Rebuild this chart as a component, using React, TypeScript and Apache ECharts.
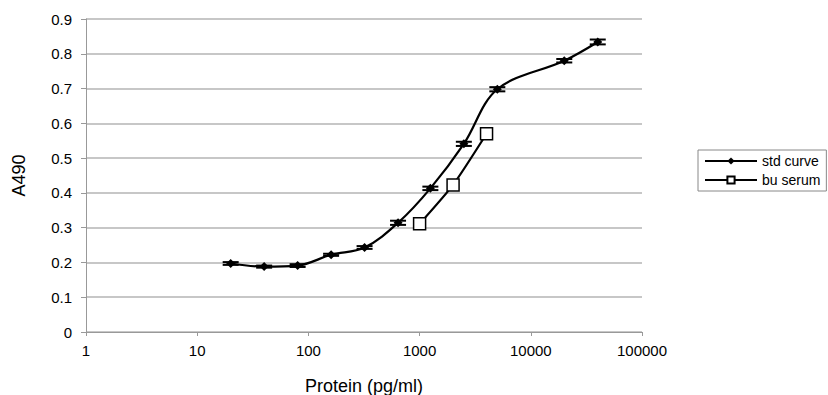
import React, { useEffect, useRef } from "react";
import * as echarts from "echarts";

const stdX = [20, 40, 80, 160, 320, 640, 1250, 2500, 5000, 20000, 40000];
const stdY = [0.197, 0.188, 0.191, 0.222, 0.243, 0.314, 0.413, 0.541, 0.698, 0.780, 0.834];
const stdErr = [0.004, 0.003, 0.004, 0.003, 0.004, 0.006, 0.005, 0.006, 0.006, 0.005, 0.007];
const buX = [1000, 2000, 4000];
const buY = [0.311, 0.423, 0.570];
const yTicks = [0, 0.1, 0.2, 0.3, 0.4, 0.5, 0.6, 0.7, 0.8, 0.9];

export default function App() {
  const ref = useRef<HTMLDivElement>(null);
  useEffect(() => {
    const chart = echarts.init(ref.current!, null, { renderer: "svg" });
    const font = "'Liberation Sans', Arial, sans-serif";
    chart.setOption({
      animation: false,
      backgroundColor: "#ffffff",
      textStyle: { fontFamily: font },
      grid: { left: 86, right: 186, top: 19, bottom: 63, containLabel: false, outerBoundsMode: "none" },
      legend: {
        left: 698,
        top: 150,
        orient: "vertical",
        borderColor: "#888",
        borderWidth: 1,
        padding: [4, 6, 4, 6],
        itemGap: 5,
        itemWidth: 52,
        itemHeight: 9,
        textStyle: { fontSize: 14, color: "#000", fontFamily: font },
        data: ["std curve", "bu serum"],
      },
      xAxis: {
        type: "log",
        logBase: 10,
        min: 1,
        max: 100000,
        name: "Protein (pg/ml)",
        nameLocation: "middle",
        nameGap: 45,
        nameTextStyle: { fontSize: 18, color: "#000", fontFamily: font },
        axisLine: { lineStyle: { color: "#999", width: 1 } },
        axisTick: { show: true, length: 4, lineStyle: { color: "#999" } },
        axisLabel: { color: "#000", fontSize: 15, margin: 11, formatter: (v: number) => String(Math.round(v)) },
        splitLine: { show: false },
        minorTick: { show: false },
      },
      yAxis: {
        type: "value",
        min: 0,
        max: 0.9,
        interval: 0.1,
        name: "A490",
        nameLocation: "middle",
        nameGap: 58,
        nameRotate: 90,
        nameTextStyle: { fontSize: 18, color: "#000", fontFamily: font },
        axisLine: { show: true, lineStyle: { color: "#999", width: 1 } },
        axisTick: { show: true, length: 5, lineStyle: { color: "#999" } },
        axisLabel: {
          color: "#000",
          fontSize: 15,
          margin: 14,
          formatter: (v: number) => {
            const t = yTicks.find((k) => Math.abs(k - v) < 1e-6);
            return t === 0 ? "0" : (t ?? v).toFixed(1);
          },
        },
        splitLine: { show: true, lineStyle: { color: "#b4b4b4", width: 1.5 } },
      },
      series: [
        {
          name: "std curve",
          type: "line",
          smooth: 0.35,
          data: stdX.map((x, i) => [x, stdY[i]]),
          symbol: "diamond",
          symbolSize: 9,
          itemStyle: { color: "#000" },
          lineStyle: { color: "#000", width: 2.2 },
          z: 3,
        },
        {
          name: "bu serum",
          type: "line",
          smooth: 0.2,
          data: buX.map((x, i) => [x, buY[i]]),
          symbol: "rect",
          symbolSize: 12,
          itemStyle: { color: "#fff", borderColor: "#000", borderWidth: 1.5 },
          lineStyle: { color: "#000", width: 2.2 },
          z: 3,
        },
        {
          name: "err",
          type: "custom",
          data: stdX.map((x, i) => [x, stdY[i] - stdErr[i], stdY[i] + stdErr[i]]),
          renderItem: (params: any, api: any) => {
            const lo = api.coord([api.value(0), api.value(1)]);
            const hi = api.coord([api.value(0), api.value(2)]);
            const w = 8;
            const st = { stroke: "#000", lineWidth: 2 };
            return {
              type: "group",
              children: [
                { type: "line", shape: { x1: lo[0], y1: lo[1], x2: hi[0], y2: hi[1] }, style: st },
                { type: "line", shape: { x1: lo[0] - w, y1: lo[1], x2: lo[0] + w, y2: lo[1] }, style: st },
                { type: "line", shape: { x1: hi[0] - w, y1: hi[1], x2: hi[0] + w, y2: hi[1] }, style: st },
              ],
            };
          },
          z: 4,
          silent: true,
        },
      ],
    });
    return () => chart.dispose();
  }, []);
  return <div ref={ref} style={{ width: 828, height: 395, position: "absolute", left: 0, top: 0 }} />;
}
